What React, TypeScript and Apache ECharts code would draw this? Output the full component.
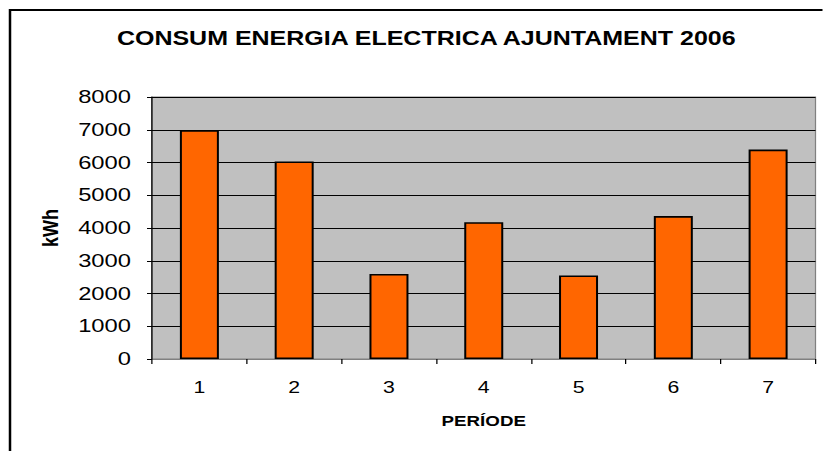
import React, { useEffect, useRef } from "react";
import * as echarts from "echarts";

const categories = ["1", "2", "3", "4", "5", "6", "7"];
const values = [6990, 6030, 2595, 4175, 2550, 4365, 6395];
const yTicks = { min: 0, max: 8000, interval: 1000 };
const titleText = "CONSUM ENERGIA ELECTRICA AJUNTAMENT 2006";
const xName = "PERÍODE";
const yName = "kWh";

// the reference is horizontally stretched; render narrower and stretch with CSS
const SX = 1.25;
const W = 823;
const H = 451;

export default function App() {
  const ref = useRef<HTMLDivElement>(null);
  useEffect(() => {
    const chart = echarts.init(ref.current!, undefined, { renderer: "svg" });
    const font = "'Liberation Sans', Arial, sans-serif";
    const sx = (v: number) => v / SX;
    chart.setOption({
      animation: false,
      backgroundColor: "#ffffff",
      textStyle: { fontFamily: font },
      title: {
        text: titleText,
        left: sx(420),
        textAlign: "center",
        top: 23,
        textStyle: { fontSize: 20, fontWeight: "bold", color: "#000", fontFamily: font },
      },
      graphic: [
        {
          type: "rect",
          shape: { x: sx(10), y: 10, width: 900, height: 500 },
          style: { fill: "none", stroke: "#000", lineWidth: 2 },
          silent: true,
        },
      ],
      grid: {
        left: sx(152),
        top: 97,
        right: sx(7),
        bottom: 92,
        containLabel: false,
        show: true,
        backgroundColor: "#C0C0C0",
        borderColor: "#808080",
        borderWidth: 1,
      },
      xAxis: {
        type: "category",
        data: categories,
        boundaryGap: true,
        name: xName,
        nameLocation: "middle",
        nameGap: 55,
        nameTextStyle: { fontSize: 15, fontWeight: "bold", color: "#000", fontFamily: font },
        axisLine: { show: true, lineStyle: { color: "#808080", width: 1 } },
        axisTick: { show: true, interval: 0, alignWithLabel: false, length: 5, lineStyle: { color: "#000" } },
        axisLabel: { fontSize: 17, color: "#000", margin: 20, fontFamily: font },
        splitLine: { show: false },
      },
      yAxis: {
        type: "value",
        min: yTicks.min,
        max: yTicks.max,
        interval: yTicks.interval,
        name: yName,
        nameLocation: "middle",
        nameGap: 72,
        nameRotate: 90,
        nameTextStyle: { fontSize: 18, fontWeight: "bold", color: "#000", fontFamily: font },
        axisLine: { show: true, lineStyle: { color: "#000", width: 1 } },
        axisTick: { show: true, length: sx(5), lineStyle: { color: "#000" } },
        axisLabel: {
          fontSize: 19,
          color: "#000",
          margin: sx(21),
          fontFamily: font,
          formatter: (v: number) => String(v),
        },
        splitLine: { show: true, lineStyle: { color: "#000", width: 1 } },
      },
      series: [
        {
          type: "bar",
          data: values,
          barWidth: sx(39),
          itemStyle: { color: "#FF6600", borderColor: "#000", borderWidth: 1.6 },
        },
      ],
    });
    return () => chart.dispose();
  }, []);
  return (
    <div
      ref={ref}
      style={{
        position: "fixed",
        left: 0,
        top: 0,
        width: W / SX,
        height: H,
        transform: `scaleX(${SX})`,
        transformOrigin: "0 0",
      }}
    />
  );
}
